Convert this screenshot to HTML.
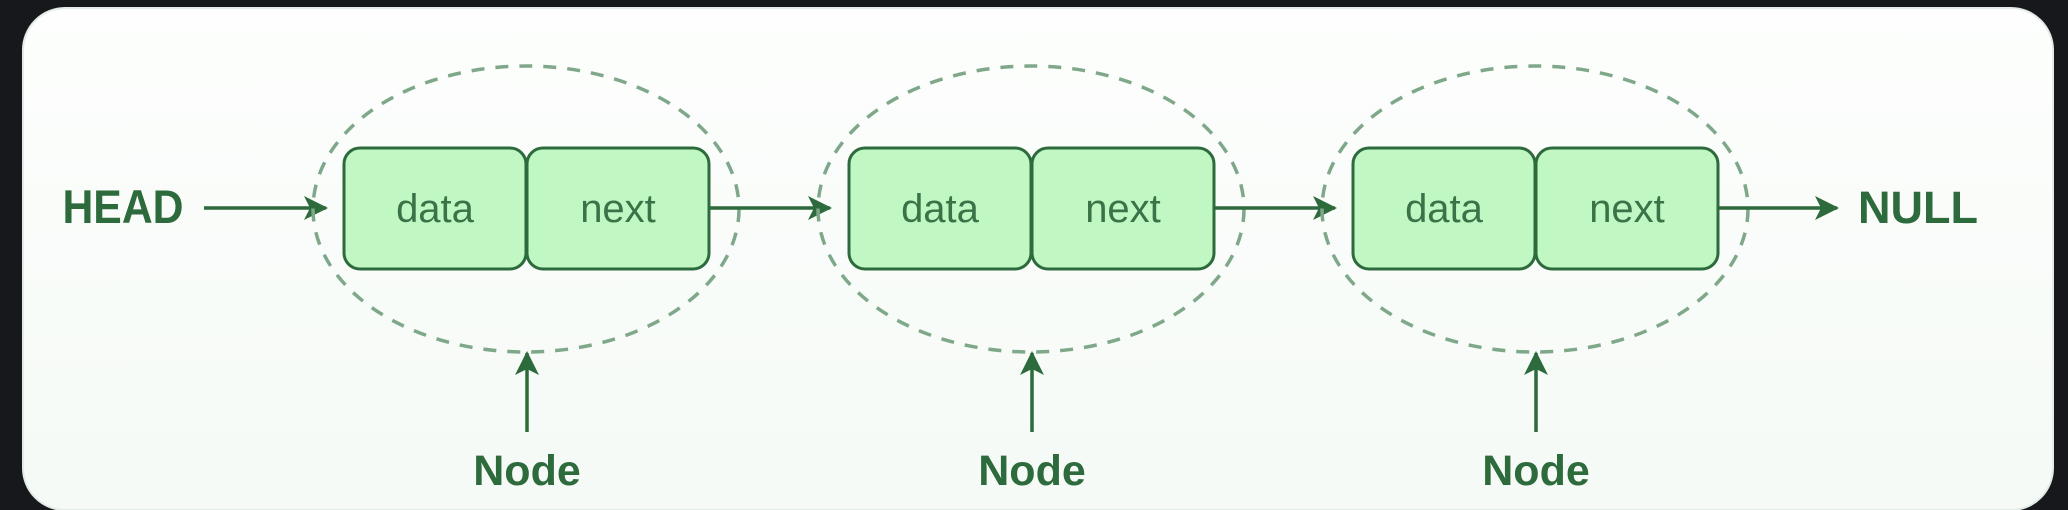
<!DOCTYPE html>
<html><head><meta charset="utf-8"><style>
html,body{margin:0;padding:0;width:2068px;height:510px;background:#17181c;overflow:hidden}
svg{display:block}
</style></head><body>
<svg width="2068" height="510" viewBox="0 0 2068 510" xmlns="http://www.w3.org/2000/svg">
<defs>
<linearGradient id="bg" x1="0" y1="0" x2="0" y2="1">
<stop offset="0" stop-color="#fdfefd"/><stop offset="1" stop-color="#f5faf6"/>
</linearGradient>
<marker id="ah" viewBox="0 0 24 24" refX="22" refY="12" markerWidth="24" markerHeight="24" markerUnits="userSpaceOnUse" orient="auto">
<path d="M0,0 L24,12 L0,24 L6,12 Z" fill="#2d6a3c"/>
</marker>
</defs>
<rect x="23" y="8" width="2030" height="502" rx="42" fill="url(#bg)" stroke="#e2ebe5" stroke-width="2"/>
<g font-family="Liberation Sans, sans-serif">
<text x="123" y="223" font-size="45" font-weight="bold" fill="#2d6a3c" text-anchor="middle" transform="translate(123,223) scale(0.95,1.05) translate(-123,-223)">HEAD</text>
<line x1="204" y1="208" x2="326" y2="208" stroke="#2d6a3c" stroke-width="3.5" marker-end="url(#ah)"/>

<g id="n1">
<rect x="344" y="148" width="182" height="121" rx="16" fill="#c0f7c3" stroke="#2d6a3c" stroke-width="3"/>
<rect x="527" y="148" width="182" height="121" rx="16" fill="#c0f7c3" stroke="#2d6a3c" stroke-width="3"/>
<text x="435" y="222" font-size="40" fill="#3b7348" text-anchor="middle">data</text>
<text x="618" y="222" font-size="40" fill="#3b7348" text-anchor="middle">next</text>
<ellipse cx="526" cy="209" rx="213" ry="143" fill="none" stroke="#7fa88a" stroke-width="3.5" stroke-dasharray="13 11"/>
<line x1="527" y1="432" x2="527" y2="353" stroke="#2d6a3c" stroke-width="3.5" marker-end="url(#ah)"/>
<text x="527" y="485" font-size="43" font-weight="bold" fill="#2d6a3c" text-anchor="middle">Node</text>
</g>
<line x1="709" y1="208" x2="830" y2="208" stroke="#2d6a3c" stroke-width="3.5" marker-end="url(#ah)"/>

<g transform="translate(505,0)">
<rect x="344" y="148" width="182" height="121" rx="16" fill="#c0f7c3" stroke="#2d6a3c" stroke-width="3"/>
<rect x="527" y="148" width="182" height="121" rx="16" fill="#c0f7c3" stroke="#2d6a3c" stroke-width="3"/>
<text x="435" y="222" font-size="40" fill="#3b7348" text-anchor="middle">data</text>
<text x="618" y="222" font-size="40" fill="#3b7348" text-anchor="middle">next</text>
<ellipse cx="526" cy="209" rx="213" ry="143" fill="none" stroke="#7fa88a" stroke-width="3.5" stroke-dasharray="13 11"/>
<line x1="527" y1="432" x2="527" y2="353" stroke="#2d6a3c" stroke-width="3.5" marker-end="url(#ah)"/>
<text x="527" y="485" font-size="43" font-weight="bold" fill="#2d6a3c" text-anchor="middle">Node</text>
<line x1="709" y1="208" x2="830" y2="208" stroke="#2d6a3c" stroke-width="3.5" marker-end="url(#ah)"/>
</g>

<g transform="translate(1009,0)">
<rect x="344" y="148" width="182" height="121" rx="16" fill="#c0f7c3" stroke="#2d6a3c" stroke-width="3"/>
<rect x="527" y="148" width="182" height="121" rx="16" fill="#c0f7c3" stroke="#2d6a3c" stroke-width="3"/>
<text x="435" y="222" font-size="40" fill="#3b7348" text-anchor="middle">data</text>
<text x="618" y="222" font-size="40" fill="#3b7348" text-anchor="middle">next</text>
<ellipse cx="526" cy="209" rx="213" ry="143" fill="none" stroke="#7fa88a" stroke-width="3.5" stroke-dasharray="13 11"/>
<line x1="527" y1="432" x2="527" y2="353" stroke="#2d6a3c" stroke-width="3.5" marker-end="url(#ah)"/>
<text x="527" y="485" font-size="43" font-weight="bold" fill="#2d6a3c" text-anchor="middle">Node</text>
<line x1="709" y1="208" x2="828" y2="208" stroke="#2d6a3c" stroke-width="3.5" marker-end="url(#ah)"/>
</g>

<text x="1918" y="223" font-size="45" font-weight="bold" fill="#2d6a3c" text-anchor="middle">NULL</text>
</g>
</svg>
</body></html>
